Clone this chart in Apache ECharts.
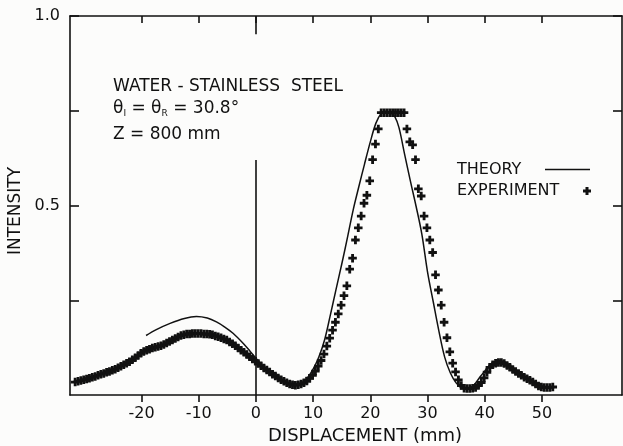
<!DOCTYPE html>
<html>
<head>
<meta charset="utf-8">
<script src="https://cdn.jsdelivr.net/npm/echarts@6/dist/echarts.min.js"></script>
<style>
  html, body { margin: 0; padding: 0; background: #fcfcfb; }
  #chart { width: 623px; height: 446px; }
</style>
</head>
<body>
<div id="chart"></div>
<script>
// Reflected beam profile, water / stainless steel interface

// Measured intensities (detector saturates near 0.745)
const expX = [
  -31.6,-31.1,-30.6,-30.1,-29.6,-29.1,-28.6,-28.1,-27.6,-27.1,-26.6,-26.1,-25.6,-25.1,-24.6,-24.1,
  -23.6,-23.1,-22.6,-22.1,-21.6,-21.1,-20.6,-20.1,-19.6,-19.1,-18.6,-18.1,-17.6,-17.1,-16.6,-16.1,
  -15.6,-15.1,-14.6,-14.1,-13.6,-13.1,-12.6,-12.1,-11.6,-11.1,-10.6,-10.1,-9.6,-9.1,-8.6,-8.1,
  -7.6,-7.1,-6.6,-6.1,-5.6,-5.1,-4.6,-4.1,-3.6,-3.1,-2.6,-2.1,-1.6,-1.1,-0.6,-0.1,
  0.4,0.9,1.4,1.9,2.4,2.9,3.4,3.9,4.4,4.9,5.4,5.9,6.4,6.9,7.4,7.9,
  8.4,8.9,9.4,9.9,10.4,10.9,11.4,11.9,12.4,12.9,13.4,13.9,14.4,14.9,15.4,15.9,
  16.4,16.9,17.4,17.9,18.4,18.9,19.4,19.9,20.4,20.9,21.4,21.9,22.4,22.9,23.4,23.9,
  24.4,24.9,25.4,25.9,26.4,26.9,27.4,27.9,28.4,28.9,29.4,29.9,30.4,30.9,31.4,31.9,
  32.4,32.9,33.4,33.9,34.4,34.9,35.4,35.9,36.4,36.9,37.4,37.9,38.4,38.9,39.4,39.9,
  40.4,40.9,41.4,41.9,42.4,42.9,43.4,43.9,44.4,44.9,45.4,45.9,46.4,46.9,47.4,47.9,
  48.4,48.9,49.4,49.9,50.4,50.9,51.4,51.9
];
const expY = [
  0.034,0.036,0.038,0.040,0.042,0.044,0.047,0.049,0.052,0.055,0.057,0.060,0.062,0.065,0.068,0.072,
  0.076,0.080,0.084,0.088,0.093,0.098,0.104,0.110,0.115,0.118,0.121,0.124,0.126,0.128,0.130,0.133,
  0.137,0.141,0.145,0.149,0.153,0.157,0.159,0.161,0.161,0.162,0.162,0.162,0.162,0.161,0.161,0.160,
  0.159,0.156,0.154,0.151,0.148,0.145,0.140,0.135,0.130,0.124,0.118,0.113,0.107,0.101,0.095,0.089,
  0.083,0.077,0.071,0.066,0.061,0.055,0.050,0.045,0.040,0.036,0.032,0.029,0.027,0.026,0.027,0.029,
  0.032,0.037,0.044,0.052,0.063,0.076,0.091,0.108,0.129,0.150,0.171,0.192,0.214,0.237,0.262,0.288,
  0.332,0.361,0.409,0.441,0.472,0.506,0.527,0.565,0.621,0.662,0.702,0.745,0.745,0.745,0.745,0.745,
  0.745,0.745,0.745,0.745,0.702,0.668,0.660,0.621,0.544,0.525,0.472,0.441,0.409,0.376,0.317,0.277,
  0.237,0.192,0.151,0.114,0.084,0.061,0.040,0.025,0.018,0.017,0.017,0.018,0.020,0.025,0.033,0.045,
  0.060,0.073,0.080,0.084,0.086,0.086,0.083,0.078,0.073,0.067,0.062,0.057,0.052,0.047,0.043,0.039,
  0.034,0.029,0.024,0.021,0.020,0.020,0.020,0.021
];

// Calculated profile
const theoryX = [
  -19.2,-17.5,-15,-12.5,-10.4,-8.5,-6.9,-5.5,-4,-2.2,-1,0,1,2,3,4,5,6,7,8,9,10,11,12,13,14,15,16,17,18,19,20,21,22,
  22.7,23.5,24.3,25,26,27,28,29,30,31,32,33,34,35,36,37,38,39.2,40,40.9,41.7,42.4,43.2,44,45,46,47,48,49,50,50.5
];
const theoryY = [
  0.157,0.172,0.189,0.202,0.207,0.203,0.193,0.180,0.163,0.136,0.115,0.097,0.080,0.066,0.054,0.043,0.034,0.028,0.026,0.031,
  0.045,0.068,0.100,0.145,0.210,0.278,0.345,0.415,0.488,0.550,0.610,0.668,0.718,0.745,
  0.749,0.745,0.734,0.706,0.635,0.565,0.498,0.425,0.325,0.246,0.168,0.100,0.058,0.032,0.018,0.015,0.024,0.048,0.063,0.079,
  0.087,0.091,0.089,0.083,0.072,0.060,0.048,0.037,0.027,0.020,0.017
];

// Axis ticks and labels
const xTicks = [-20, -10, 0, 10, 20, 30, 40, 50];
const yTicks = [0.25, 0.5, 0.75, 1.0];
const yLabels = { 0.5: '0.5', 1: '1.0' };

const INK = '#111111';
const FONT = 'DejaVu Sans';
const PLUS = 'path://M3,0H6V3H9V6H6V9H3V6H0V3H3Z';

const chart = echarts.init(document.getElementById('chart'), null, { renderer: 'canvas' });

const axisLine = { show: true, onZero: false, lineStyle: { color: INK, width: 1.6 } };
const tickStyle = { color: INK, width: 1.6 };

// plus glyph for the legend, 8 px across
function plusPoints(cx, cy) {
  const a = 4, b = 1.5;
  return [
    [cx - b, cy - a], [cx + b, cy - a], [cx + b, cy - b], [cx + a, cy - b],
    [cx + a, cy + b], [cx + b, cy + b], [cx + b, cy + a], [cx - b, cy + a],
    [cx - b, cy + b], [cx - a, cy + b], [cx - a, cy - b], [cx - b, cy - b]
  ];
}

chart.setOption({
  animation: false,
  backgroundColor: '#fcfcfb',
  textStyle: { fontFamily: FONT, color: INK },
  grid: { left: 70, right: 1, top: 16, bottom: 51, containLabel: false, outerBoundsMode: 'none' },
  xAxis: [
    {
      type: 'value', position: 'bottom', min: -32.5, max: 64,
      axisLine,
      axisTick: { show: true, inside: false, length: 7, lineStyle: tickStyle, customValues: xTicks },
      axisLabel: { show: true, customValues: xTicks, margin: 11, fontSize: 16, color: INK, fontFamily: FONT,
        formatter: v => String(v) },
      splitLine: { show: false },
      name: 'DISPLACEMENT (mm)', nameLocation: 'middle', nameGap: 29,
      nameTextStyle: { fontSize: 18, color: INK, fontFamily: FONT, padding: [0, 0, 0, 38] }
    },
    {
      type: 'value', position: 'top', min: -32.5, max: 64,
      axisLine,
      axisTick: { show: true, inside: true, length: 7, lineStyle: tickStyle, customValues: xTicks },
      axisLabel: { show: false },
      splitLine: { show: false }
    }
  ],
  yAxis: [
    {
      type: 'value', position: 'left', min: 0, max: 1, interval: 0.25,
      axisLine,
      axisTick: { show: true, inside: true, length: 9, lineStyle: tickStyle, customValues: yTicks },
      axisLabel: { show: true, margin: 10, fontSize: 16, color: INK, fontFamily: FONT,
        formatter: v => yLabels[v] || '' },
      splitLine: { show: false },
      name: 'INTENSITY', nameLocation: 'middle', nameGap: 43, nameRotate: 90,
      nameTextStyle: { fontSize: 17, color: INK, fontFamily: FONT, padding: [0, 11, 0, 0] }
    },
    {
      type: 'value', position: 'right', min: 0, max: 1, interval: 0.25,
      axisLine,
      axisTick: { show: true, inside: true, length: 9, lineStyle: tickStyle, customValues: yTicks },
      axisLabel: { show: false },
      splitLine: { show: false }
    }
  ],
  series: [
    {
      name: 'THEORY', type: 'line', xAxisIndex: 0, yAxisIndex: 0,
      data: theoryX.map((x, i) => [x, theoryY[i]]),
      smooth: 0.35, showSymbol: false, symbol: 'none',
      lineStyle: { color: INK, width: 1.5 },
      z: 3,
      markLine: {
        silent: true, symbol: 'none', label: { show: false },
        lineStyle: { color: INK, width: 1.6, type: 'solid' },
        data: [
          [{ coord: [0, 0] }, { coord: [0, 0.62] }],
          [{ coord: [0, 1] }, { coord: [0, 0.952] }]
        ]
      }
    },
    {
      name: 'EXPERIMENT', type: 'scatter', xAxisIndex: 0, yAxisIndex: 0,
      data: expX.map((x, i) => [x, expY[i]]),
      symbol: PLUS, symbolSize: 8.5,
      itemStyle: { color: INK, opacity: 1 },
      z: 4
    }
  ],
  graphic: [
    {
      type: 'text', left: 113, top: 78,
      style: { text: 'WATER - STAINLESS  STEEL', font: '17px "DejaVu Sans"', fill: INK }
    },
    {
      type: 'text', left: 113, top: 100,
      style: {
        text: '{t|θ}{s|I}{t| = θ}{s|R}{t| = 30.8°}',
        fill: INK,
        rich: {
          t: { fontSize: 17, fontFamily: FONT, fill: INK, lineHeight: 22, verticalAlign: 'middle' },
          s: { fontSize: 9, fontFamily: FONT, fill: INK, lineHeight: 22, verticalAlign: 'middle', padding: [9, 0, 0, 0] }
        }
      }
    },
    {
      type: 'text', left: 113, top: 126,
      style: { text: 'Z = 800 mm', font: '17px "DejaVu Sans"', fill: INK }
    },
    {
      type: 'text', left: 457, top: 162,
      style: { text: 'THEORY', font: '16px "DejaVu Sans"', fill: INK }
    },
    {
      type: 'line', shape: { x1: 545, y1: 169.5, x2: 590, y2: 169.5 },
      style: { stroke: INK, lineWidth: 1.5 }
    },
    {
      type: 'text', left: 457, top: 183,
      style: { text: 'EXPERIMENT', font: '16px "DejaVu Sans"', fill: INK }
    },
    {
      type: 'polygon', shape: { points: plusPoints(587, 191) },
      style: { fill: INK }
    }
  ]
});
</script>
</body>
</html>
